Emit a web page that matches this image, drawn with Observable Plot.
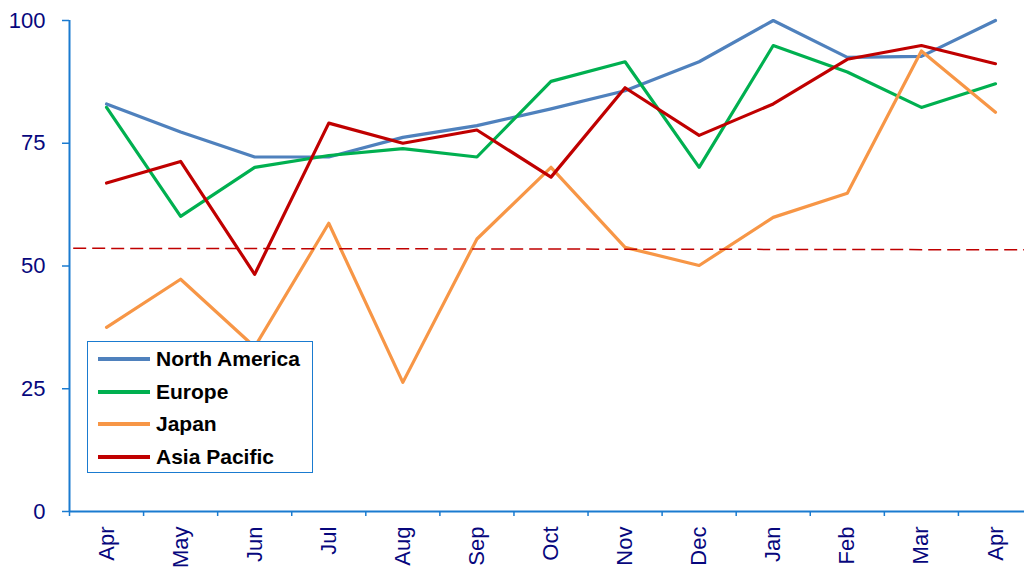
<!DOCTYPE html>
<html><head><meta charset="utf-8">
<script src="https://cdn.jsdelivr.net/npm/d3@7"></script>
<script src="https://cdn.jsdelivr.net/npm/@observablehq/plot@0.6"></script>
<style>
body{margin:0;background:#fff;}
#wrap{position:relative;width:1024px;height:569px;overflow:hidden;}
#legend{position:absolute;left:87px;top:341px;width:226px;height:132px;border:1.5px solid #1a7bd0;background:#fff;box-sizing:border-box;padding-top:1px;font:bold 21px "Liberation Sans",Arial,sans-serif;color:#000;}
.row{display:flex;align-items:center;height:32.5px;}
.sw{width:52px;height:4px;margin-left:10px;margin-right:6px;}
</style>
</head><body>
<div id="wrap"><div id="legend"></div></div>
<script>
const months = ["Apr","May","Jun","Jul","Aug","Sep","Oct","Nov","Dec","Jan","Feb","Mar","Apr"];
const seriesNames = ["North America","Europe","Japan","Asia Pacific"];
const seriesColors = ["#4f81bd","#00b050","#f79646","#c00000"];
const northAmerica = [83.0,77.3,72.2,72.2,76.2,78.6,82.0,85.7,91.6,100,92.5,92.7,100];
const europe = [82.3,60.1,70.1,72.5,73.9,72.2,87.6,91.6,70.1,94.9,89.5,82.3,87.1];
const japan = [37.5,47.3,33.5,58.7,26.3,55.5,70.1,53.8,50.1,59.9,64.8,93.8,81.3];
const asiaPacific = [66.9,71.3,48.3,79.1,75.0,77.7,68.1,86.3,76.6,83.0,92.1,94.9,91.2];
const thresholdStart = 53.6;
const thresholdEnd = 53.3;
const yTicks = [0,25,50,75,100];

const seriesValues = [northAmerica, europe, japan, asiaPacific];
const rows = [];
seriesValues.forEach((vals, s) => vals.forEach((v, i) => rows.push({series: seriesNames[s], i, v})));
const idx = months.map((m, i) => i);
const bounds = d3.range(-0.5, months.length, 1);

const axisBlue = "#1a7bd0";
const navy = "#07077d";

const chart = Plot.plot({
  width: 1024, height: 569,
  marginLeft: 69, marginRight: 0, marginTop: 20, marginBottom: 58,
  style: {fontFamily: '"Liberation Sans", Arial, sans-serif', fontSize: "22px", background: "#fff"},
  x: {type: "linear", domain: [-0.5, months.length - 0.5], range: [69, 1032]},
  y: {domain: [0, 100]},
  color: {domain: seriesNames, range: seriesColors},
  marks: [
    Plot.ruleX([-0.5], {y1: 0, y2: 100, stroke: axisBlue, strokeWidth: 2}),
    Plot.ruleY([0], {x1: -0.5, x2: months.length - 0.5, stroke: axisBlue, strokeWidth: 2}),
    Plot.axisY(yTicks, {tickSize: 7, tickPadding: 17, stroke: axisBlue, strokeWidth: 1.5, fill: navy, label: null}),
    Plot.axisX(bounds, {tickSize: 5, tickFormat: () => "", stroke: axisBlue, strokeWidth: 1.5, label: null}),
    Plot.axisX(idx, {tickSize: 0, tickPadding: 15, tickRotate: -90, tickFormat: i => months[i], fill: navy, label: null}),
    Plot.line(rows, {x: "i", y: "v", z: "series", stroke: "series", strokeWidth: 3.2}),
    Plot.link([{x1: -0.45, x2: months.length - 0.5, y1: thresholdStart, y2: thresholdEnd}],
      {x1: "x1", x2: "x2", y1: "y1", y2: "y2", stroke: "#c00000", strokeWidth: 1.5, strokeDasharray: "13,6"})
  ]
});
document.getElementById("wrap").prepend(chart);

const leg = document.getElementById("legend");
seriesNames.forEach((n, k) => {
  const r = document.createElement("div"); r.className = "row";
  const sw = document.createElement("div"); sw.className = "sw"; sw.style.background = seriesColors[k];
  const t = document.createElement("span"); t.textContent = n;
  r.append(sw, t); leg.append(r);
});
</script>
</body></html>
